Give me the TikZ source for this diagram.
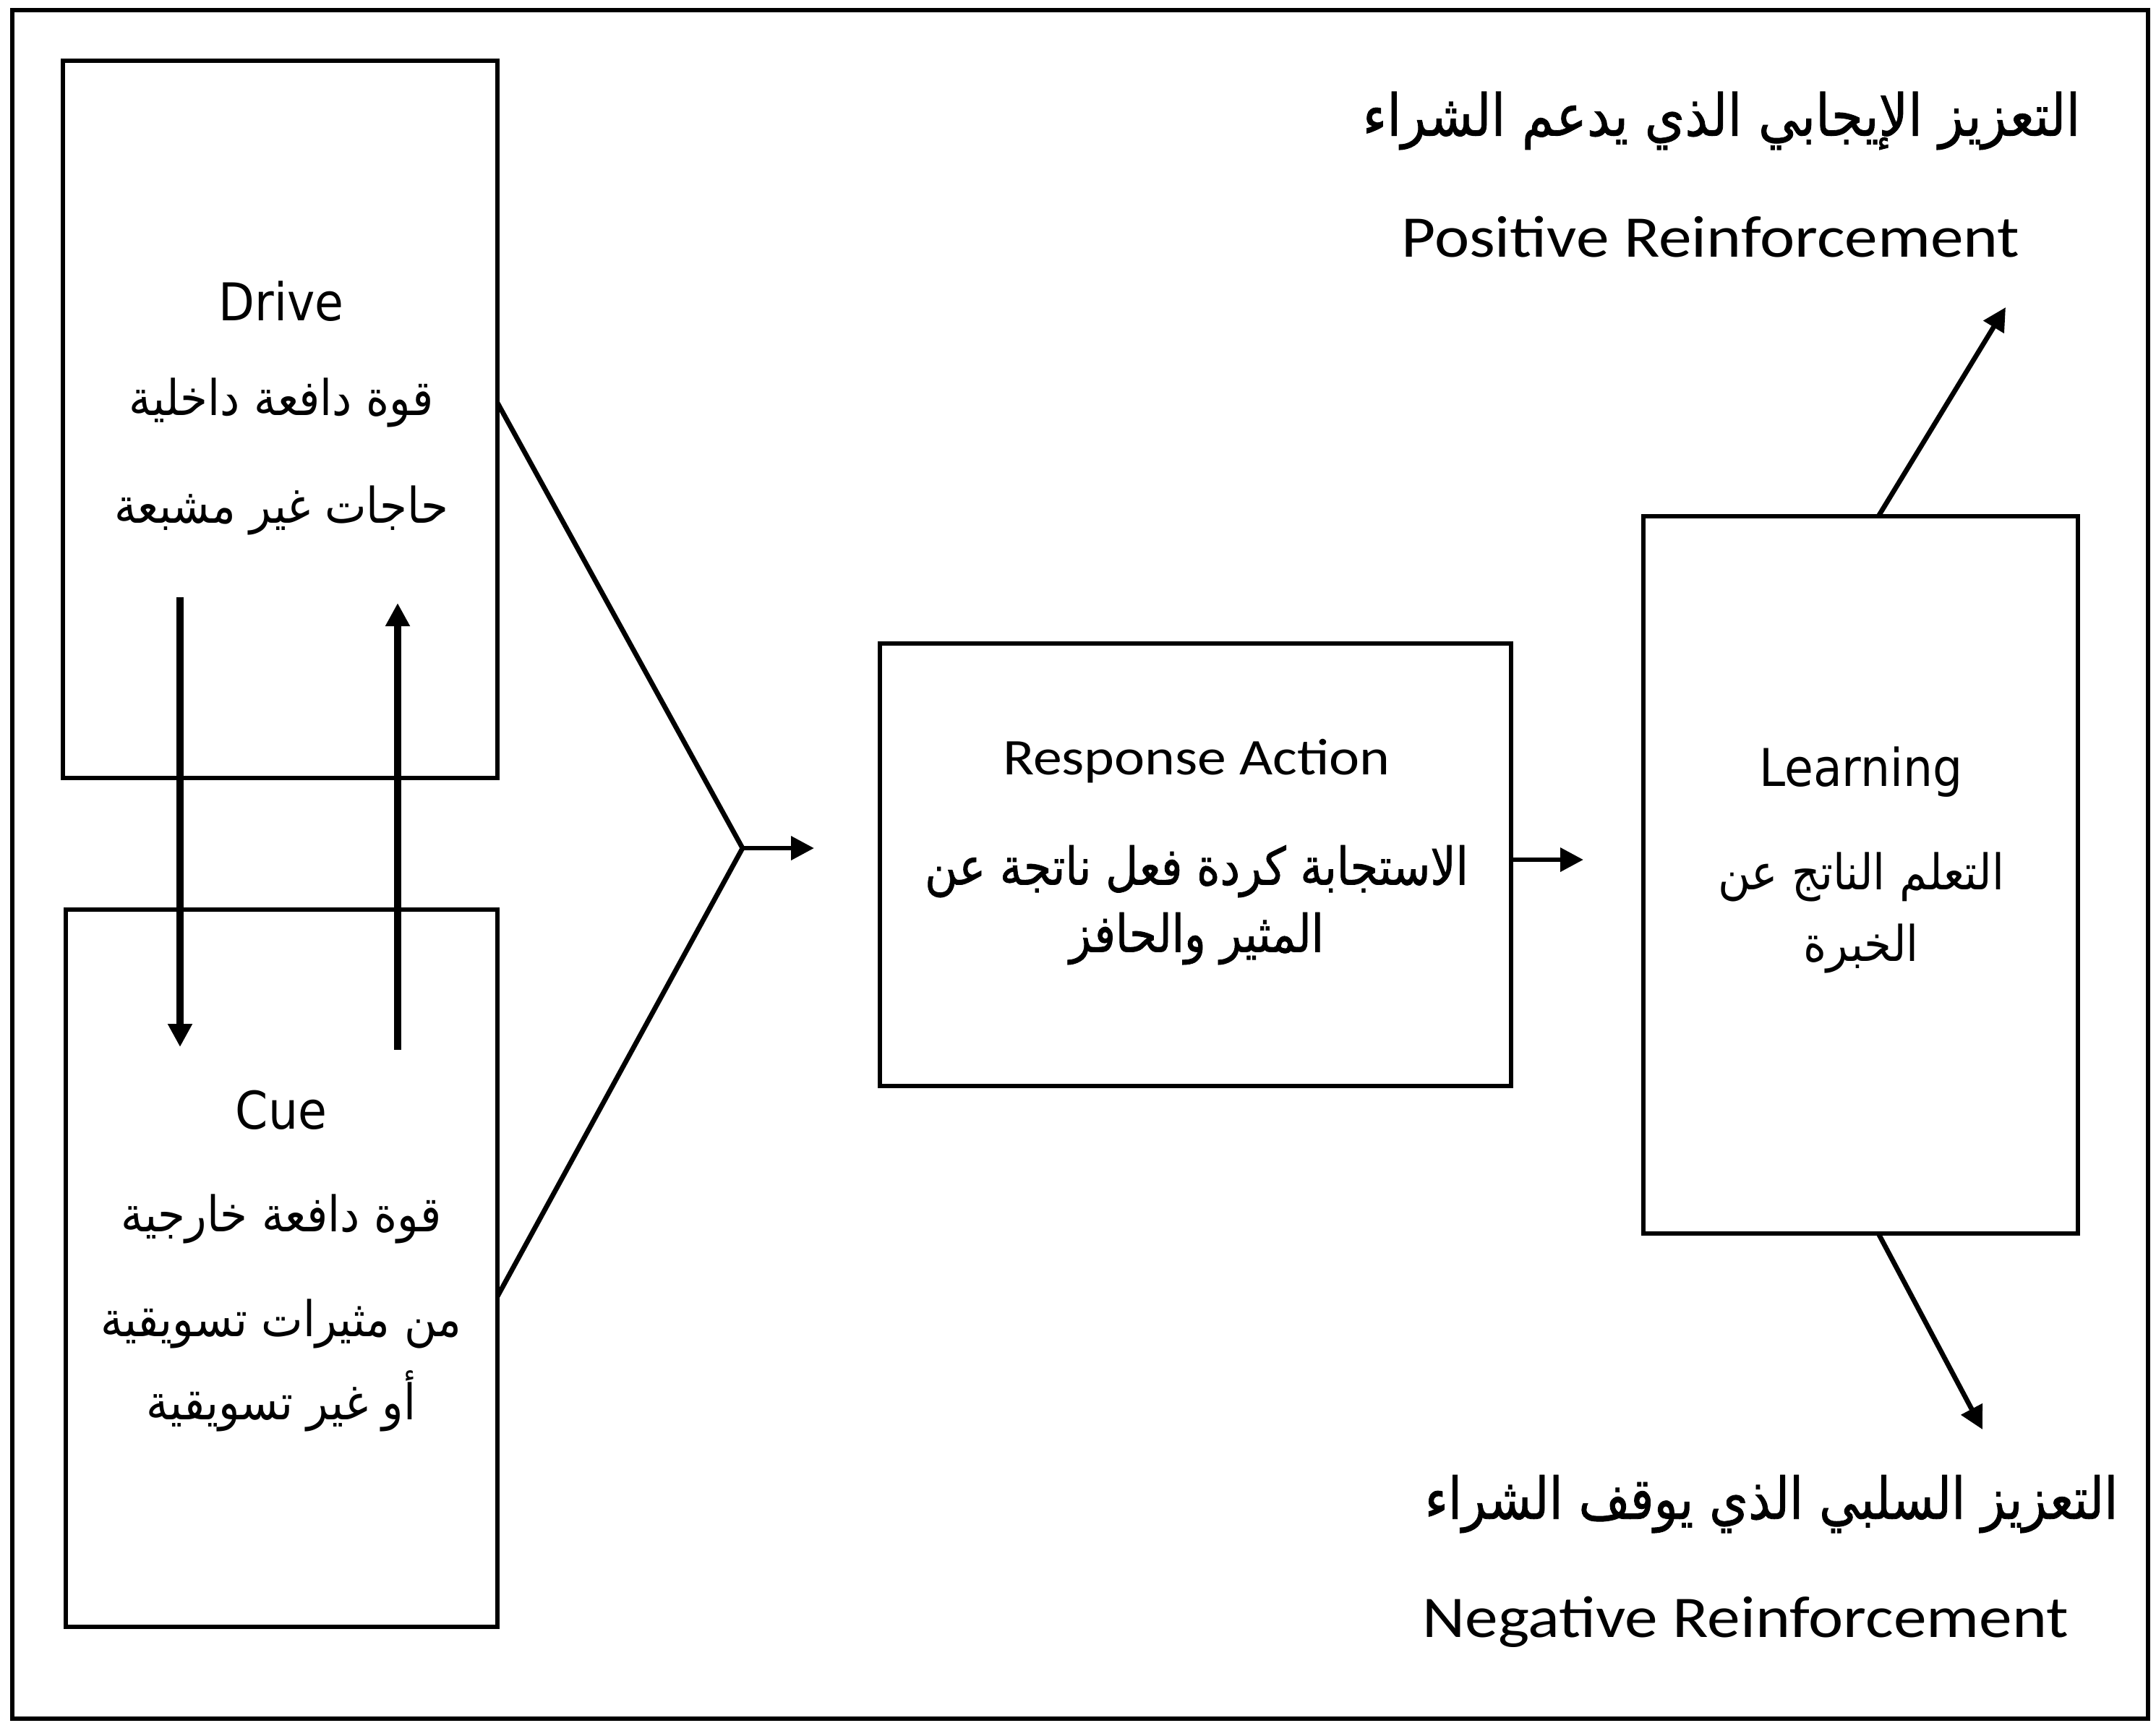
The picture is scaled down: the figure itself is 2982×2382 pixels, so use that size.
\documentclass[tikz,border=0pt]{standalone}
\usepackage{fontspec}
\usetikzlibrary{arrows.meta}
\TeXXeTstate=1
\setmainfont[FakeStretch=1.12]{Carlito}
\newfontfamily\dv[FakeStretch=0.9]{DejaVu Sans}
\newfontfamily\ar[Script=Arabic,FakeStretch=0.9]{DejaVu Sans}
\newfontfamily\arb[Script=Arabic,FakeStretch=0.86,FakeBold=1]{DejaVu Sans}
\newfontfamily\arpos[Script=Arabic,FakeStretch=0.89,FakeBold=1]{DejaVu Sans}
\newfontfamily\arneg[Script=Arabic,FakeStretch=0.86,FakeBold=1]{DejaVu Sans}
\begin{document}
\begin{tikzpicture}[x=0.25pt,y=-0.25pt,
  box/.style={draw, line width=1.4pt, inner sep=0pt, outer sep=0pt},
  dvtext/.style={font=\dv\fontsize{18}{21}\selectfont, inner sep=0pt},
  artext/.style={font=\ar\fontsize{17}{20}\selectfont, inner sep=0pt},
  cal/.style={font=\fontsize{17.8}{22}\selectfont, inner sep=0pt},
  arbig/.style={font=\arb\fontsize{18}{22}\selectfont, inner sep=0pt},
  vline/.style={line width=2.3pt, -{Triangle[length=8pt,width=8pt]}},
  conn/.style={line width=1.7pt},
  arr/.style={line width=1.7pt, -{Triangle[length=8pt,width=8pt]}}]
\useasboundingbox (0,0) rectangle (2982,2382);
\draw[line width=1.3pt] (17,14) rectangle (2971,2377);

% boxes
\node[box, minimum width=150.25pt, minimum height=248pt] (drive) at (387.5,580) {};
\node[box, minimum width=149.25pt, minimum height=248pt] (cue) at (389.5,1754) {};
\node[box, minimum width=218.25pt, minimum height=153pt] (resp) at (1653.5,1196) {};
\node[box, minimum width=150.25pt, minimum height=248pt] (learn) at (2573.5,1210) {};

% texts
\node[dvtext] (tdrive) at (389,417) {Drive};
\node[artext] (tdrive1) at (389,557) {\beginR قوة دافعة داخلية\endR};
\node[artext] (tdrive2) at (389,706) {\beginR حاجات غير مشبعة\endR};

\node[dvtext] (tcue) at (389,1535) {Cue};
\node[artext] (tcue1) at (389,1686) {\beginR قوة دافعة خارجية\endR};
\node[artext] (tcue2) at (389,1831) {\beginR من مثيرات تسويقية\endR};
\node[artext] (tcue3) at (389,1938) {\beginR أو غير تسويقية\endR};

\node[cal] (tresp) at (1655,1053) {Response Action};
\node[arbig] (tresp1) at (1655,1205) {\beginR الاستجابة كردة فعل ناتجة عن\endR};
\node[arbig] (tresp2) at (1655,1298) {\beginR المثير والحافز\endR};

\node[dvtext] (tlearn) at (2574,1068) {Learning};
\node[artext] (tlearn1) at (2574,1213) {\beginR التعلم الناتج عن\endR};
\node[artext] (tlearn2) at (2574,1312) {\beginR الخبرة\endR};

\node[font=\arpos\fontsize{20}{24}\selectfont, inner sep=0pt] (tpos1) at (2381,167) {\beginR التعزيز الإيجابي الذي يدعم الشراء\endR};
\node[font=\fontsize{20.4}{24}\selectfont, inner sep=0pt] (tpos2) at (2366,328) {Positive Reinforcement};
\node[font=\arneg\fontsize{20}{24}\selectfont, inner sep=0pt] (tneg1) at (2450,2080) {\beginR التعزيز السلبي الذي يوقف الشراء\endR};
\node[font=\fontsize{20.4}{24}\selectfont, inner sep=0pt] (tneg2) at (2414,2243) {Negative Reinforcement};

% coordinates
\coordinate (dn1) at (249,826);
\coordinate (dn2) at (249,1448);
\coordinate (up1) at (550,1452);
\coordinate (up2) at (550,834);
\coordinate (apex) at (1027,1173);
\coordinate (apexend) at (1126,1173);
\coordinate (respend) at (2190,1189);
\coordinate (posend) at (2774,425);
\coordinate (negend) at (2742,1977);

% connectors
\draw[vline] (dn1) -- (dn2);
\draw[vline] (up1) -- (up2);
\draw[conn] (drive.east |- 0,557) -- (apex) -- (cue.east |- 0,1793);
\draw[arr] (apex) -- (apexend);
\draw[arr] (resp.east |- 0,1189) -- (respend);
\draw[arr] (learn.north -| 2598,0) -- (posend);
\draw[arr] (learn.south -| 2598,0) -- (negend);
\end{tikzpicture}
\end{document}
